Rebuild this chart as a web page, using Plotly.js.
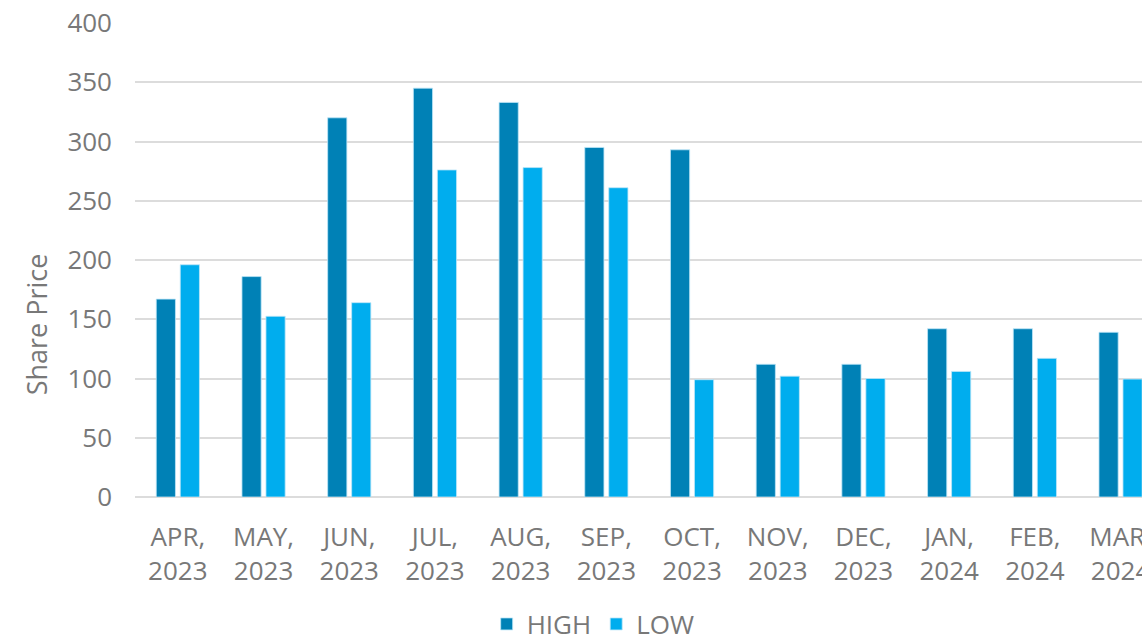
<!DOCTYPE html>
<html>
<head>
<meta charset="utf-8">
<script src="https://cdn.plot.ly/plotly-3.0.1.min.js"></script>
<style>
html,body{margin:0;padding:0;background:#fff;overflow:hidden;}
#chart{width:1142px;height:641px;}
</style>
</head>
<body>
<div id="chart"></div>
<script>
const categories = ["APR,<br>2023","MAY,<br>2023","JUN,<br>2023","JUL,<br>2023","AUG,<br>2023","SEP,<br>2023","OCT,<br>2023","NOV,<br>2023","DEC,<br>2023","JAN,<br>2024","FEB,<br>2024","MAR,<br>2024"];
const highValues = [167, 186, 320, 345, 333, 295, 293, 112, 112, 142, 142, 139];
const lowValues  = [196, 152.5, 164, 276, 278, 261, 99, 102, 100, 106, 117, 99.5];
const yTicks = [0, 50, 100, 150, 200, 250, 300, 350, 400];

const font = "'Open Sans', 'Noto Sans', sans-serif";
const textColor = "#787878";

const traces = [
  {type:"bar", name:"HIGH", x:categories, y:highValues,
   marker:{color:"#0081B6", line:{color:"rgba(190,230,248,0.8)", width:1}}},
  {type:"bar", name:"LOW", x:categories, y:lowValues,
   marker:{color:"#00ADEE", line:{color:"rgba(190,230,248,0.8)", width:1}}}
];

const layout = {
  width:1142, height:641,
  margin:{l:135, r:0, t:23, b:144, autoexpand:false},
  paper_bgcolor:"#fff", plot_bgcolor:"#fff",
  font:{family:font, color:textColor, size:26},
  barmode:"group", bargap:0.44, bargroupgap:0.2,
  showlegend:true,
  legend:{orientation:"h", x:0.455, xanchor:"center", y:-0.268, yanchor:"middle",
          font:{family:font, size:26, color:textColor}, itemwidth:30, traceorder:"normal"},
  xaxis:{type:"category", range:[-0.5, 11.25], showgrid:false, zeroline:false,
         showline:false, ticks:"", tickfont:{family:font, size:26, color:textColor},
         ticklabelstandoff:22, fixedrange:true, automargin:false},
  yaxis:{range:[0,400], tickvals:yTicks, ticktext:yTicks.map(String),
         showgrid:true, gridcolor:"#dcdcdc", gridwidth:2, zeroline:true,
         zerolinecolor:"#dcdcdc", zerolinewidth:2, showline:false, ticks:"",
         tickfont:{family:font, size:26, color:textColor}, ticklabelstandoff:22,
         fixedrange:true, automargin:false},
  annotations:[{text:"Share Price", xref:"paper", yref:"paper", x:-0.097, y:0.365,
                xanchor:"center", yanchor:"middle", textangle:-90, showarrow:false,
                font:{family:font, size:27, color:textColor}}]
};

Plotly.newPlot("chart", traces, layout, {displayModeBar:false, staticPlot:true});
</script>
</body>
</html>
